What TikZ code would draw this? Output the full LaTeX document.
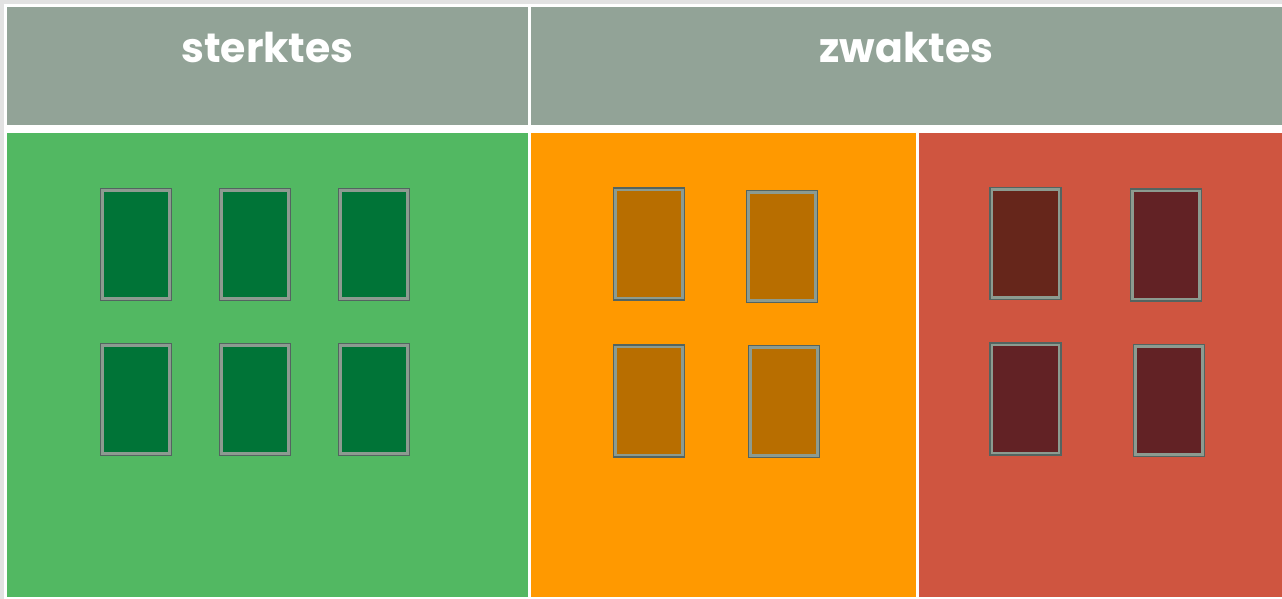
\documentclass[tikz,border=0pt]{standalone}
\usepackage{fontspec}
\setmainfont{Poppins}
\definecolor{hdr}{HTML}{92A397}
\definecolor{grn}{HTML}{52B862}
\definecolor{org}{HTML}{FF9900}
\definecolor{rdd}{HTML}{CF5540}
\definecolor{dgrn}{HTML}{007437}
\definecolor{brn}{HTML}{B86E00}
\definecolor{drd}{HTML}{66261B}
\definecolor{drdb}{HTML}{622225}
\definecolor{cedge}{HTML}{536460}
\definecolor{clight}{HTML}{8C9B90}
\definecolor{frame}{HTML}{E2E2E2}
\tikzset{
  panel/.style={anchor=north west, inner sep=0, outer sep=0, draw=none},
  card/.style={inner sep=0, outer sep=0, minimum width=67pt, minimum height=108pt,
    preaction={draw=cedge, line width=5.4pt}, draw=clight, line width=2.4pt},
  title/.style={anchor=base, text=white, font=\fontsize{41}{41}\selectfont\bfseries}
}
\begin{document}
\begin{tikzpicture}[x=1pt,y=1pt]
\useasboundingbox (0,0) rectangle (1282,-599);
\fill[white] (0,0) rectangle (1282,-599);
\fill[frame] (0,0) rectangle (1282,-4);
\fill[frame] (0,0) rectangle (4,-599);
% headers
\node[panel, fill=hdr, minimum width=521pt, minimum height=118pt] (h1) at (7,-7) {};
\node[panel, fill=hdr, minimum width=751pt, minimum height=118pt] (h2) at (531,-7) {};
\node[title] (t1) at (267.5,-63) {sterktes};
\node[title] (t2) at (906.5,-63) {zwaktes};
% panels
\node[panel, fill=grn, minimum width=521pt, minimum height=464pt] (pg) at (7,-133) {};
\node[panel, fill=org, minimum width=385pt, minimum height=464pt] (po) at (531,-133) {};
\node[panel, fill=rdd, minimum width=363pt, minimum height=464pt] (pr) at (919,-133) {};
% green cards
\node[card, fill=dgrn] (g1) at (136,-244.5) {};
\node[card, fill=dgrn] (g2) at (255,-244.5) {};
\node[card, fill=dgrn] (g3) at (374,-244.5) {};
\node[card, fill=dgrn] (g4) at (136,-399.5) {};
\node[card, fill=dgrn] (g5) at (255,-399.5) {};
\node[card, fill=dgrn] (g6) at (374,-399.5) {};
% orange cards
\node[card, fill=brn] (o1) at (649,-244) {};
\node[card, fill=brn] (o2) at (782,-246.5) {};
\node[card, fill=brn] (o3) at (649,-401) {};
\node[card, fill=brn] (o4) at (784,-401.5) {};
% red cards
\node[card, fill=drd] (r1) at (1025.5,-243.5) {};
\node[card, fill=drdb] (r2) at (1166,-245) {};
\node[card, fill=drdb] (r3) at (1025.5,-399) {};
\node[card, fill=drdb] (r4) at (1169,-400.5) {};
\end{tikzpicture}
\end{document}
